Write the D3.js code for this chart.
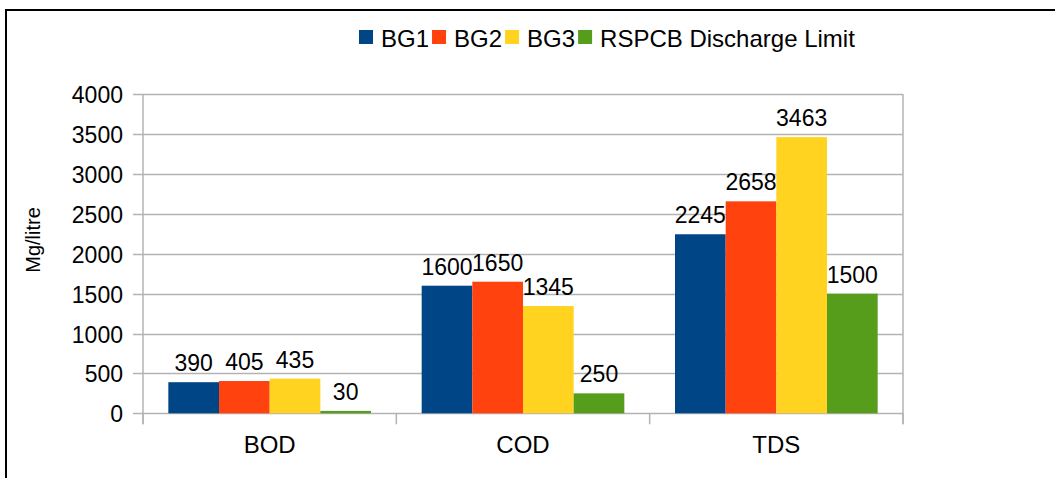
<!DOCTYPE html>
<html>
<head>
<meta charset="utf-8">
<script src="https://cdn.jsdelivr.net/npm/d3@7"></script>
<style>
  body { margin: 0; background: #fff; }
  text { font-family: "Liberation Sans", Arial, sans-serif; fill: #000; }
</style>
</head>
<body>
<div id="chart-area"></div>
<script>
// Data
var categories = ["BOD", "COD", "TDS"];
var seriesNames = ["BG1", "BG2", "BG3", "RSPCB Discharge Limit"];
var bg1 = [390, 1600, 2245];
var bg2 = [405, 1650, 2658];
var bg3 = [435, 1345, 3463];
var rspcb = [30, 250, 1500];
var yTicks = [0, 500, 1000, 1500, 2000, 2500, 3000, 3500, 4000];
var colors = ["#004586", "#ff420e", "#ffd320", "#579d1c"];

var seriesValues = [bg1, bg2, bg3, rspcb];

var W = 1055, H = 478;
var plot = { left: 143, right: 903, top: 94.3, bottom: 413.3 };

var svg = d3.select("#chart-area").append("svg")
    .attr("width", W)
    .attr("height", H);

svg.append("rect")
    .attr("width", W)
    .attr("height", H)
    .attr("fill", "#fff");

// outer frame of the chart (cut off at right and bottom)
svg.append("rect")
    .attr("x", 6)
    .attr("y", 10)
    .attr("width", W + 20)
    .attr("height", H + 20)
    .attr("fill", "none")
    .attr("stroke", "#000")
    .attr("stroke-width", 2);

// Scales
var x0 = d3.scaleBand()
    .domain(categories)
    .range([plot.left, plot.right])
    .padding(0);

var bw = x0.bandwidth();
var x1 = d3.scaleBand()
    .domain(seriesNames)
    .range([bw * 0.1, bw * 0.9])
    .padding(0);

var y = d3.scaleLinear()
    .domain([0, 4000])
    .range([plot.bottom, plot.top]);

// Gridlines
svg.append("g")
    .attr("class", "grid")
    .selectAll("line")
    .data(yTicks)
    .enter().append("line")
    .attr("x1", plot.left - 10)
    .attr("x2", plot.right)
    .attr("y1", function(d) { return Math.round(y(d)) + 0.5; })
    .attr("y2", function(d) { return Math.round(y(d)) + 0.5; })
    .attr("stroke", "#b3b3b3")
    .attr("stroke-width", 1.5);

// Y axis labels
var yAxis = svg.append("g")
    .attr("class", "y axis")
    .attr("transform", "translate(" + plot.left + ",0)")
    .call(d3.axisLeft(y).tickValues(yTicks).tickFormat(d3.format("d"))
        .tickSize(10).tickPadding(10));
yAxis.select(".domain").remove();
yAxis.selectAll(".tick line").remove();
yAxis.selectAll(".tick text")
    .attr("font-size", "23px")
    .attr("font-family", "Liberation Sans, Arial, sans-serif")
    .attr("fill", "#000")
    .attr("dy", "0.37em");

// Vertical axis lines (left axis + right edge)
svg.append("g")
    .selectAll("line")
    .data([plot.left, plot.right])
    .enter().append("line")
    .attr("x1", function(d) { return d; })
    .attr("x2", function(d) { return d; })
    .attr("y1", plot.top)
    .attr("y2", plot.bottom + 11)
    .attr("stroke", "#b3b3b3")
    .attr("stroke-width", 1.5);

// Category separators (ticks below axis)
var sepX = categories.map(function(c) { return x0(c); }).concat([plot.right]);
svg.append("g")
    .selectAll("line")
    .data(sepX)
    .enter().append("line")
    .attr("x1", function(d) { return d; })
    .attr("x2", function(d) { return d; })
    .attr("y1", plot.bottom)
    .attr("y2", plot.bottom + 11)
    .attr("stroke", "#b3b3b3")
    .attr("stroke-width", 1.5);

// X axis labels
var xAxis = svg.append("g")
    .attr("class", "x axis")
    .attr("transform", "translate(0," + plot.bottom + ")")
    .call(d3.axisBottom(x0).tickSize(0).tickPadding(0));
xAxis.select(".domain").remove();
xAxis.selectAll(".tick text")
    .attr("font-size", "24px")
    .attr("font-family", "Liberation Sans, Arial, sans-serif")
    .attr("fill", "#000")
    .attr("dy", null)
    .attr("y", 40);

// Y axis title
svg.append("text")
    .attr("transform", "translate(40,240) rotate(-90)")
    .attr("text-anchor", "middle")
    .attr("font-size", "20px")
    .text("Mg/litre");

// Bars
var groups = svg.append("g")
    .selectAll("g")
    .data(categories)
    .enter().append("g")
    .attr("transform", function(c) { return "translate(" + x0(c) + ",0)"; });

var barData = function(c, ci) {
    return seriesNames.map(function(s, si) {
        return { series: s, value: seriesValues[si][ci], color: colors[si] };
    });
};

groups.selectAll("rect")
    .data(barData)
    .enter().append("rect")
    .attr("x", function(d) { return x1(d.series); })
    .attr("width", x1.bandwidth())
    .attr("y", function(d) { return y(d.value); })
    .attr("height", function(d) { return plot.bottom - y(d.value); })
    .attr("fill", function(d) { return d.color; });

groups.selectAll("text")
    .data(barData)
    .enter().append("text")
    .attr("x", function(d) { return x1(d.series) + x1.bandwidth() / 2; })
    .attr("y", function(d) { return y(d.value) - 11; })
    .attr("text-anchor", "middle")
    .attr("font-size", "23px")
    .text(function(d) { return d.value; });

// Legend
var legend = svg.append("g").attr("class", "legend");
var lx = 359;
seriesNames.forEach(function(s, i) {
    legend.append("rect")
        .attr("x", lx)
        .attr("y", 30)
        .attr("width", 14)
        .attr("height", 14)
        .attr("fill", colors[i]);
    var t = legend.append("text")
        .attr("x", lx + 22)
        .attr("y", 46.5)
        .attr("font-size", "24px")
        .text(s);
    lx += 22 + t.node().getComputedTextLength() + 3;
});
</script>
</body>
</html>
